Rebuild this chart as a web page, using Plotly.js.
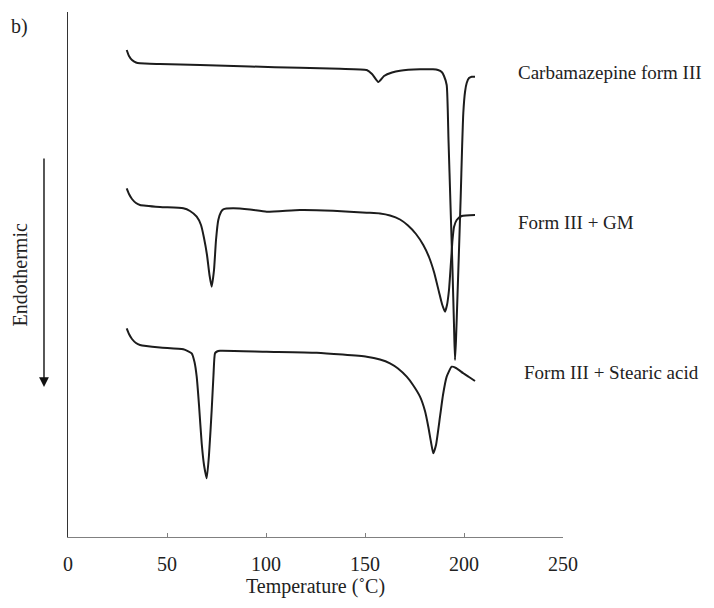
<!DOCTYPE html>
<html>
<head>
<meta charset="utf-8">
<script src="https://cdn.plot.ly/plotly-3.0.1.min.js"></script>
<style>html,body{margin:0;padding:0;background:#fff}#chart{width:714px;height:608px}</style>
</head>
<body>
<div id="chart"></div>
<script>
// Temperature (°C) and heat flow (arbitrary units, offset per curve)
const cbzTemp = [29.65,30.81,32.32,34.34,36.36,46.46,66.67,91.92,117.17,137.37,150.86,153.54,156.72,159.60,163.64,167.68,177.78,184.34,186.87,188.74,189.90,191.26,192.17,193.18,194.19,194.95,195.45,195.96,196.72,197.47,198.33,199.00,199.65,200.51,201.36,202.53,203.89,205.56];
const cbzFlow = [4.87,4.81,4.77,4.745,4.737,4.73,4.72,4.705,4.692,4.682,4.67,4.63,4.55,4.61,4.645,4.663,4.677,4.677,4.67,4.65,4.61,4.52,3.97,3.32,2.67,2.12,1.77,1.97,2.42,2.87,3.40,3.87,4.24,4.45,4.54,4.59,4.603,4.603];

const gmTemp = [29.65,30.81,32.32,34.34,36.36,46.46,58.23,61.62,65.00,67.17,68.69,70.20,71.46,72.57,73.74,74.75,75.91,77.27,78.43,83.33,91.92,100.35,117.17,133.84,150.86,157.58,162.63,167.68,171.72,175.76,179.44,182.32,184.85,187.37,188.89,190.40,191.41,192.42,193.43,194.19,194.95,196.31,198.84,205.56];
const gmFlow = [3.487,3.43,3.38,3.34,3.32,3.30,3.287,3.26,3.203,3.12,2.99,2.82,2.62,2.503,2.67,2.97,3.17,3.25,3.277,3.287,3.275,3.253,3.27,3.263,3.243,3.235,3.215,3.175,3.115,3.03,2.92,2.80,2.65,2.45,2.33,2.253,2.32,2.47,2.75,2.97,3.10,3.17,3.21,3.22];

const saTemp = [29.65,30.81,32.32,34.34,36.36,46.46,58.23,62.47,63.89,65.00,66.16,67.52,68.69,70.05,71.21,72.57,73.48,74.24,75.25,76.77,100.35,125.61,150.86,157.58,162.63,166.67,171.06,174.24,177.78,180.30,181.97,183.33,184.49,185.86,187.88,189.39,191.26,193.79,195.96,199.65,202.53,205.56];
const saFlow = [2.087,2.03,1.98,1.94,1.92,1.895,1.877,1.837,1.75,1.603,1.32,0.937,0.72,0.587,0.82,1.27,1.62,1.837,1.855,1.863,1.853,1.843,1.803,1.775,1.737,1.685,1.603,1.52,1.403,1.26,1.103,0.95,0.837,0.92,1.203,1.42,1.603,1.703,1.69,1.637,1.60,1.56];

const curveNames = ["Carbamazepine form III", "Form III + GM", "Form III + Stearic acid"];
const xTicks = [0, 50, 100, 150, 200, 250];

const lineStyle = {color: '#1c1c1c', width: 2, shape: 'spline', smoothing: 0.5};
const traces = [
  {x: cbzTemp, y: cbzFlow, name: curveNames[0]},
  {x: gmTemp, y: gmFlow, name: curveNames[1]},
  {x: saTemp, y: saFlow, name: curveNames[2]}
].map(t => Object.assign(t, {type: 'scatter', mode: 'lines', line: lineStyle, hoverinfo: 'skip'}));

const serif = '"Liberation Serif", "Times New Roman", serif';
const fnt = {family: serif, size: 20, color: '#222'};
const lblFnt = {family: serif, size: 19, color: '#222'};
const layout = {
  width: 714, height: 608,
  margin: {l: 68, r: 151, t: 12, b: 71},
  paper_bgcolor: '#fff', plot_bgcolor: '#fff',
  showlegend: false,
  font: fnt,
  xaxis: {
    range: [0, 250], tickvals: xTicks, ticktext: xTicks.map(String),
    showgrid: false, zeroline: false,
    showline: true, linecolor: '#808080', linewidth: 1,
    ticks: 'inside', ticklen: 4, tickcolor: '#808080', tickwidth: 1,
    ticklabelstandoff: 9,
    tickfont: fnt,
    title: {text: 'Temperature (˚C)', font: fnt, standoff: 2}
  },
  yaxis: {
    range: [0, 5.25], showgrid: false, zeroline: false,
    showline: true, linecolor: '#333', linewidth: 1,
    showticklabels: false, ticks: ''
  },
  annotations: [
    {xref: 'paper', yref: 'paper', x: 0.905, y: 0.884, xanchor: 'left', yanchor: 'middle', text: curveNames[0], showarrow: false, font: lblFnt},
    {xref: 'paper', yref: 'paper', x: 0.905, y: 0.6, xanchor: 'left', yanchor: 'middle', text: curveNames[1], showarrow: false, font: lblFnt},
    {xref: 'paper', yref: 'paper', x: 0.917, y: 0.314, xanchor: 'left', yanchor: 'middle', text: curveNames[2], showarrow: false, font: lblFnt},
    {xref: 'paper', yref: 'paper', x: -0.0485, y: 0.2857, text: '', showarrow: true, ax: 0, ay: -230, arrowhead: 2, arrowsize: 1.4, arrowwidth: 1.4, arrowcolor: '#111', standoff: 0},
    {xref: 'paper', yref: 'paper', x: -0.097, y: 0.5, text: 'Endothermic', textangle: -90, showarrow: false, xanchor: 'center', yanchor: 'middle', font: fnt},
    {xref: 'paper', yref: 'paper', x: -0.097, y: 0.972, text: 'b)', showarrow: false, xanchor: 'center', yanchor: 'middle', font: fnt}
  ]
};

Plotly.newPlot('chart', traces, layout, {displayModeBar: false, staticPlot: true});
</script>
</body>
</html>
